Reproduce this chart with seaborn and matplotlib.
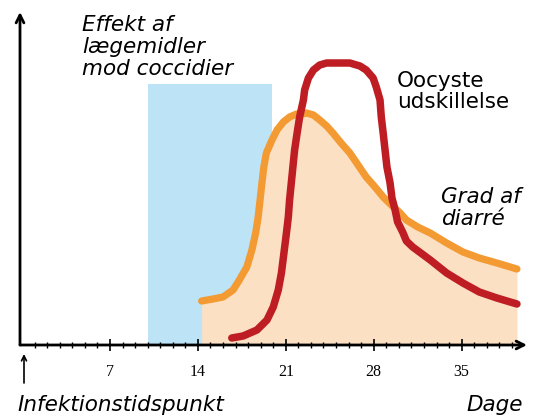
import numpy as np
import pandas as pd
import seaborn as sns
import matplotlib.pyplot as plt

# days since infection vs. relative level (arbitrary units)
diarr_days = [14.3, 15.2, 16.0, 16.8, 17.3, 17.9, 18.3, 18.6, 18.8, 18.95, 19.1,
              19.25, 19.45, 19.9, 20.3, 20.8, 21.3, 21.85, 22.35, 22.65, 23.2,
              23.7, 24.25, 24.75, 25.4, 26.1, 26.75, 27.4, 28.1, 28.75, 29.4,
              30.1, 30.6, 31.5, 32.5, 33.8, 35.1, 36.4, 37.8, 39.4]
diarr_level = [44, 46, 48, 55, 65, 78, 95, 112, 128, 145, 162,
               178, 192, 205, 215, 223, 228, 231, 231, 232, 230,
               225, 219, 212, 202, 192, 180, 168, 158, 148, 140,
               132, 125, 118, 112, 102, 93, 87, 82, 76]

oocyst_days = [16.7, 17.6, 18.7, 19.5, 20.0, 20.4, 20.65, 20.85, 21.05, 21.2,
               21.3, 21.5, 21.7, 21.9, 22.1, 22.4, 22.5, 22.8, 23.2, 23.7,
               24.25, 25.2, 26.1, 26.9, 27.4, 27.95, 28.2, 28.5, 28.6, 28.75,
               28.9, 29.05, 29.3, 29.45, 29.7, 29.9, 30.3, 30.6, 31.1, 32.5,
               33.8, 35.1, 36.4, 37.8, 39.4]
oocyst_level = [7, 9, 15, 25, 38, 55, 72, 92, 112, 128,
                145, 170, 195, 212, 228, 245, 255, 267, 275, 280,
                282, 282, 282, 279, 275, 267, 258, 245, 228, 212,
                195, 178, 162, 147, 135, 123, 113, 104, 98, 85,
                72, 62, 53, 47, 41]

drug_window = [10.0, 19.9]
drug_top = 261

tick_days = [7, 14, 21, 28, 35]

W, H = 537, 417
sns.set_theme(style="white")
plt.rcParams["font.family"] = ["DejaVu Sans"]

fig = plt.figure(figsize=(W / 100, H / 100), dpi=100)
ax = fig.add_axes([20 / W, 72 / H, 507 / W, 333 / H])
ax.set_xlim(-0.16, 40.2)
ax.set_ylim(0, 333)

orange = "#f39a33"
red = "#be1e23"

ax.fill_between(drug_window, 0, drug_top, color="#bde3f7", lw=0, zorder=0.6)
ax.fill_between(diarr_days, 0, diarr_level, color="#fce0c4", lw=0, zorder=0.7)

df_d = pd.DataFrame({"dag": diarr_days, "niveau": diarr_level})
df_o = pd.DataFrame({"dag": oocyst_days, "niveau": oocyst_level})
sns.lineplot(data=df_d, x="dag", y="niveau", ax=ax, color=orange, lw=5.2,
             sort=False, estimator=None, zorder=3)
sns.lineplot(data=df_o, x="dag", y="niveau", ax=ax, color=red, lw=5.4,
             sort=False, estimator=None, zorder=4)
for l in ax.lines:
    l.set_solid_joinstyle("round")

ax.set_axisbelow(False)
for s in ax.spines.values():
    s.set_visible(False)
ax.set_xlabel("")
ax.set_ylabel("")
ax.set_yticks([])
ax.set_xticks(tick_days)
ax.set_xticks(range(1, 40), minor=True)
ax.set_xticklabels([str(d) for d in tick_days], family="Liberation Serif",
                   fontsize=11.5, color="black")
ax.tick_params(axis="x", which="major", direction="inout", length=9, width=1.2,
               color="black", pad=9, bottom=True)
ax.tick_params(axis="x", which="minor", direction="inout", length=5, width=1.0,
               color="black", bottom=True)

# axes with arrow heads
ax.annotate("", xy=(1.0, 0), xytext=(0, 0), xycoords="axes fraction",
            arrowprops=dict(arrowstyle="->", lw=2, color="black",
                            mutation_scale=14, shrinkA=0, shrinkB=0))
ax.annotate("", xy=(0, 1.0), xytext=(0, 0), xycoords="axes fraction",
            arrowprops=dict(arrowstyle="->", lw=2, color="black",
                            mutation_scale=14, shrinkA=0, shrinkB=0))


def px(x, y):
    return x / W, 1 - y / H


ax.annotate("", xy=px(24, 354), xytext=px(24, 383), xycoords="figure fraction",
            arrowprops=dict(arrowstyle="->", lw=1.2, color="black",
                            mutation_scale=9, shrinkA=0, shrinkB=0))

fs = 15.5
fig.text(*px(82, 75), "Effekt af\nlægemidler\nmod coccidier", fontsize=fs,
         style="italic", va="baseline", ha="left", linespacing=1.12, color="black")
fig.text(*px(397, 108), "Oocyste\nudskillelse", fontsize=fs,
         va="baseline", ha="left", linespacing=1.08, color="black")
fig.text(*px(441, 225), "Grad af\ndiarré", fontsize=fs,
         style="italic", va="baseline", ha="left", linespacing=1.1, color="black")
fig.text(*px(17, 411), "Infektionstidspunkt", fontsize=fs,
         style="italic", va="baseline", ha="left", color="black")
fig.text(*px(523, 411), "Dage", fontsize=fs,
         style="italic", va="baseline", ha="right", color="black")

fig.savefig("out.png", dpi=100)
